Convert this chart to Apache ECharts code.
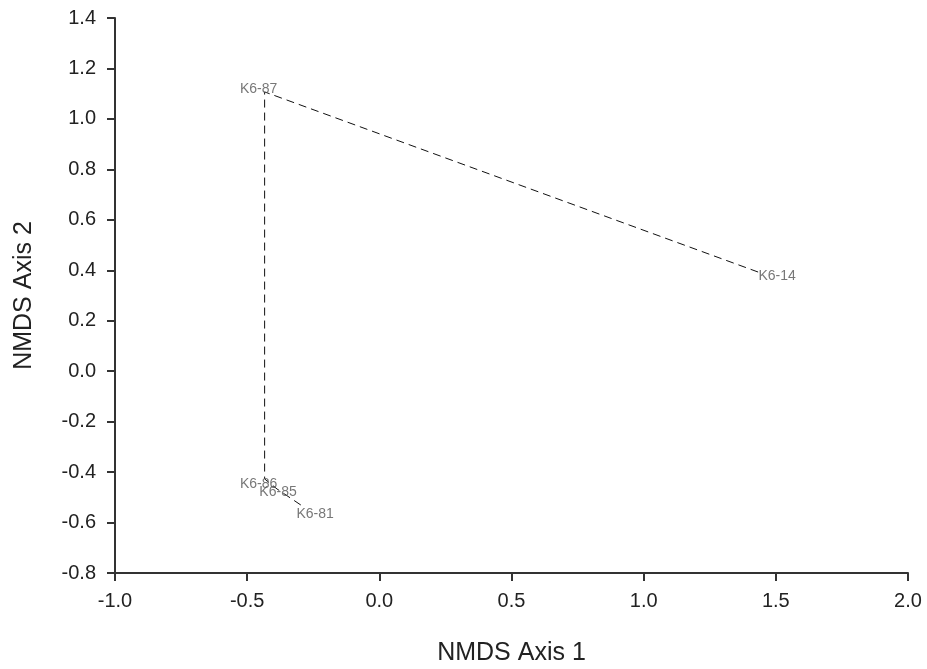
<!DOCTYPE html>
<html>
<head>
<meta charset="utf-8">
<script src="https://cdn.jsdelivr.net/npm/echarts@6/dist/echarts.min.js"></script>
<style>
  html, body { margin: 0; padding: 0; background: #fff; }
  #chart { width: 927px; height: 669px; }
</style>
</head>
<body>
<div id="chart"></div>
<script>
// Sample labels, in the order the dashed path connects them
const samples = ["K6-14", "K6-87", "K6-86", "K6-85", "K6-81"];
// NMDS Axis 1 scores
const axis1 = [1.433, -0.434, -0.434, -0.387, -0.292];
// NMDS Axis 2 scores
const axis2 = [0.393, 1.107, -0.427, -0.467, -0.534];
// Label offsets (pixels) relative to each point
const labelOffsets = [[19, 4], [-6, -3], [-6, 5], [1, 3], [13, 8]];

const xTicks = { min: -1.0, max: 2.0, step: 0.5 };
const yTicks = { min: -0.8, max: 1.4, step: 0.2 };

const pts = samples.map((s, i) => [axis1[i], axis2[i]]);

const chart = echarts.init(document.getElementById('chart'), null, { renderer: 'canvas' });
const font = 'Liberation Sans, Arial, sans-serif';

chart.setOption({
  animation: false,
  backgroundColor: '#fff',
  grid: { left: 115, right: 19, top: 18, bottom: 96, containLabel: false, outerBoundsMode: 'none' },
  xAxis: {
    type: 'value',
    min: xTicks.min, max: xTicks.max, interval: xTicks.step,
    name: 'NMDS Axis 1', nameLocation: 'middle', nameGap: 68,
    nameTextStyle: { fontFamily: font, fontSize: 25, color: '#222' },
    axisLine: { show: true, onZero: false, lineStyle: { color: '#333', width: 2 } },
    axisTick: { show: true, inside: false, length: 8, lineStyle: { color: '#333', width: 2 } },
    axisLabel: { fontFamily: font, fontSize: 20, color: '#222', margin: 18,
      formatter: v => v.toFixed(1) },
    splitLine: { show: false }
  },
  yAxis: {
    type: 'value',
    min: yTicks.min, max: yTicks.max, interval: yTicks.step,
    name: 'NMDS Axis 2', nameLocation: 'middle', nameGap: 78,
    nameTextStyle: { fontFamily: font, fontSize: 25, color: '#222' },
    axisLine: { show: true, onZero: false, lineStyle: { color: '#333', width: 2 } },
    axisTick: { show: true, inside: false, length: 8, lineStyle: { color: '#333', width: 2 } },
    axisLabel: { fontFamily: font, fontSize: 20, color: '#222', margin: 19,
      formatter: v => v.toFixed(1) },
    splitLine: { show: false }
  },
  series: [
    {
      type: 'line',
      data: pts,
      symbol: 'none',
      lineStyle: { color: '#111', width: 1, type: [8, 5] },
      z: 2
    },
    {
      type: 'scatter',
      data: pts.map((p, i) => ({
        value: p,
        name: samples[i],
        label: { offset: labelOffsets[i] }
      })),
      symbolSize: 1,
      itemStyle: { color: 'transparent' },
      label: {
        show: true,
        position: 'inside',
        formatter: p => p.name,
        fontFamily: font,
        fontSize: 14,
        color: '#555'
      },
      z: 3
    }
  ]
});
</script>
</body>
</html>
